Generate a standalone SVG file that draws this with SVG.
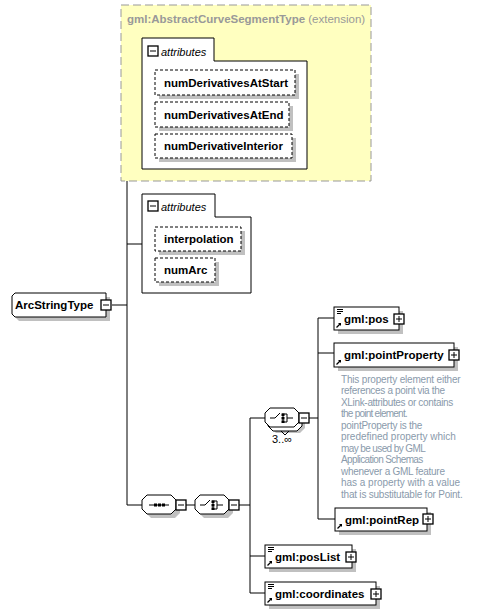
<svg xmlns="http://www.w3.org/2000/svg" width="483" height="615" viewBox="0 0 483 615">
<defs>
<style>
.nm{font-family:"Liberation Sans",Arial,sans-serif;font-weight:bold;font-size:11.5px;fill:#000}
.gr{font-family:"Liberation Sans",Arial,sans-serif;font-size:11.5px;fill:#999}
.it{font-family:"Liberation Sans",Arial,sans-serif;font-style:italic;font-size:11px;fill:#000}
.ds{font-family:"Liberation Sans",Arial,sans-serif;font-size:10px;fill:#8a9aab}
.sh{fill:#c0c0c0}
.bx{fill:#fff;stroke:#000;stroke-width:1}
.att{fill:#fff;stroke:#000;stroke-width:1;stroke-dasharray:3,2}
.ln{fill:none;stroke:#000;stroke-width:1}
.pm{fill:#fff;stroke:#000;stroke-width:1.3}
</style>
<g id="plus"><rect class="pm" x="0" y="0" width="10" height="10"/><path class="ln" d="M2,5H8M5,2V8"/></g>
<g id="minus"><rect class="pm" x="0" y="0" width="10" height="10"/><path class="ln" d="M2,5H8"/></g>
<g id="ref"><path d="M1.5,6.5L5.5,2.5" stroke="#000" stroke-width="1.2"/><path d="M3,2H6V5Z" fill="#000"/></g>
<g id="simp"><path d="M0,0.5H6M0,2.5H6M0,4.5H4" stroke="#000" stroke-width="1"/></g>
</defs>

<g id="connectors">
<path class="ln" d="M112,305H127M127,104V505M127,104H142M127,244H142M127,505H142"/>
<path class="ln" d="M185,505H195M239,505H250M250,418V593M250,418H265M250,556H265M250,593H265"/>
<path class="ln" d="M309,418H318M318,318V519M318,318H334M318,353H334M318,519H335"/>
</g>

<g id="extension">
<rect x="121" y="5" width="250" height="176" fill="#ffffc0" stroke="#999" stroke-width="1" stroke-dasharray="8,4"/>
<text x="127" y="23"><tspan class="nm" style="fill:#999">gml:AbstractCurveSegmentType</tspan><tspan class="gr"> (extension)</tspan></text>
</g>

<g id="attributes1">
<path d="M142,61V38H214V61H307V169H142Z" fill="#fff" stroke="#000"/>
<use href="#minus" x="148" y="46"/>
<text class="it" x="161" y="56">attributes</text>
</g>
<g id="numDerivativesAtStart">
<rect class="sh" x="159" y="74" width="140" height="25"/>
<rect class="att" x="155" y="70" width="140" height="25"/>
<text class="nm" x="164" y="87">numDerivativesAtStart</text>
</g>
<g id="numDerivativesAtEnd">
<rect class="sh" x="159" y="106" width="134" height="25"/>
<rect class="att" x="155" y="102" width="134" height="25"/>
<text class="nm" x="164" y="119">numDerivativesAtEnd</text>
</g>
<g id="numDerivativeInterior">
<rect class="sh" x="159" y="138" width="137" height="24"/>
<rect class="att" x="155" y="134" width="137" height="24"/>
<text class="nm" x="164" y="150">numDerivativeInterior</text>
</g>

<g id="attributes2">
<path d="M142,217V194H215V217H251V293H142Z" fill="#fff" stroke="#000"/>
<use href="#minus" x="148" y="201"/>
<text class="it" x="161" y="211">attributes</text>
</g>
<g id="interpolation">
<rect class="sh" x="159" y="231" width="86" height="24"/>
<rect class="att" x="155" y="227" width="86" height="24"/>
<text class="nm" x="164" y="243">interpolation</text>
</g>
<g id="numArc">
<rect class="sh" x="159" y="262" width="60" height="24"/>
<rect class="att" x="155" y="258" width="60" height="24"/>
<text class="nm" x="164" y="274">numArc</text>
</g>

<g id="ArcStringType">
<path class="sh" d="M19,297H110V321H19L16,318V300Z"/>
<path class="bx" d="M15,293H106V317H15L12,314V296Z"/>
<text class="nm" x="15" y="309">ArcStringType</text>
<use href="#minus" x="101" y="300"/>
</g>

<g id="sequence">
<path class="sh" d="M151,499H175L180,504V513L175,518H151L146,513V504Z"/>
<path class="bx" d="M147,495H171L176,500V509L171,514H147L142,509V500Z"/>
<path d="M149,505H169" stroke="#000"/>
<rect x="154" y="503.5" width="3" height="3" fill="#000"/>
<rect x="158" y="503.5" width="3" height="3" fill="#000"/>
<rect x="162" y="503.5" width="3" height="3" fill="#000"/>
<use href="#minus" x="176" y="500"/>
</g>

<g id="choice1">
<path class="sh" d="M204,499H228L233,504V513L228,518H204L199,513V504Z"/>
<path class="bx" d="M200,495H224L229,500V509L224,514H200L195,509V500Z"/>
<path class="ln" d="M200,505H205L210,500M213,501V509M212,501H217V509H212M217,505H223"/>
<rect x="211.5" y="500.5" width="3" height="2.5" fill="#000"/>
<rect x="211.5" y="504" width="3" height="2.5" fill="#000"/>
<rect x="211.5" y="507.5" width="3" height="2.5" fill="#000"/>
<use href="#minus" x="229" y="500"/>
</g>

<g id="choice2">
<path class="sh" d="M276,414H300L305,419V428L300,433H276L271,428V419Z"/>
<path class="bx" d="M273,412H297L302,417V426L297,431H273L268,426V417Z"/>
<path class="ln" d="M281,431L285,435L289,431"/>
<path class="bx" d="M270,408H294L299,413V422L294,427H270L265,422V413Z"/>
<path class="ln" d="M270,418H275L280,413M283,414V422M282,414H287V422H282M287,418H293"/>
<rect x="281.5" y="413.5" width="3" height="2.5" fill="#000"/>
<rect x="281.5" y="417" width="3" height="2.5" fill="#000"/>
<rect x="281.5" y="420.5" width="3" height="2.5" fill="#000"/>
<use href="#minus" x="299" y="413"/>
<text class="gr" x="272" y="443" style="fill:#000;font-size:11px">3..∞</text>
</g>

<g id="gml_pos">
<rect class="sh" x="338" y="311" width="65" height="23"/>
<rect class="bx" x="334" y="307" width="65" height="23"/>
<use href="#simp" x="337" y="309"/>
<use href="#ref" x="335" y="321"/>
<text class="nm" x="344" y="323">gml:pos</text>
<use href="#plus" x="394" y="314"/>
</g>

<g id="gml_pointProperty">
<rect class="sh" x="338" y="347" width="120" height="24"/>
<rect class="bx" x="334" y="343" width="120" height="24"/>
<use href="#ref" x="335" y="358"/>
<text class="nm" x="344" y="359">gml:pointProperty</text>
<use href="#plus" x="449" y="350"/>
<g class="ds">
<text x="341" y="382.5" textLength="119.7" lengthAdjust="spacing">This property element either</text>
<text x="341" y="394" textLength="104" lengthAdjust="spacing">references a point via the</text>
<text x="341" y="405.5" textLength="112.3" lengthAdjust="spacing">XLink-attributes or contains</text>
<text x="341" y="417" textLength="66.7" lengthAdjust="spacing">the point element.</text>
<text x="341" y="428.5" textLength="81.3" lengthAdjust="spacing">pointProperty is the</text>
<text x="341" y="440" textLength="114.7" lengthAdjust="spacing">predefined property which</text>
<text x="341" y="451.5" textLength="84.7" lengthAdjust="spacing">may be used by GML</text>
<text x="341" y="463" textLength="82.3" lengthAdjust="spacing">Application Schemas</text>
<text x="341" y="474.5" textLength="104" lengthAdjust="spacing">whenever a GML feature</text>
<text x="341" y="486" textLength="119" lengthAdjust="spacing">has a property with a value</text>
<text x="341" y="497.5" textLength="121.7" lengthAdjust="spacing">that is substitutable for Point.</text>
</g>
</g>

<g id="gml_pointRep">
<rect class="sh" x="339" y="512" width="92" height="23"/>
<rect class="bx" x="335" y="508" width="92" height="23"/>
<use href="#ref" x="336" y="522"/>
<text class="nm" x="345" y="524">gml:pointRep</text>
<use href="#plus" x="423" y="514"/>
</g>

<g id="gml_posList">
<rect class="sh" x="269" y="549" width="87" height="23"/>
<rect class="bx" x="265" y="545" width="87" height="23"/>
<use href="#simp" x="268" y="547"/>
<use href="#ref" x="266" y="559"/>
<text class="nm" x="275" y="561">gml:posList</text>
<use href="#plus" x="346" y="552"/>
</g>

<g id="gml_coordinates">
<rect class="sh" x="269" y="586" width="111" height="23"/>
<rect class="bx" x="265" y="582" width="111" height="23"/>
<use href="#simp" x="268" y="584"/>
<use href="#ref" x="266" y="596"/>
<text class="nm" x="275" y="598">gml:coordinates</text>
<use href="#plus" x="371" y="589"/>
</g>
</svg>
